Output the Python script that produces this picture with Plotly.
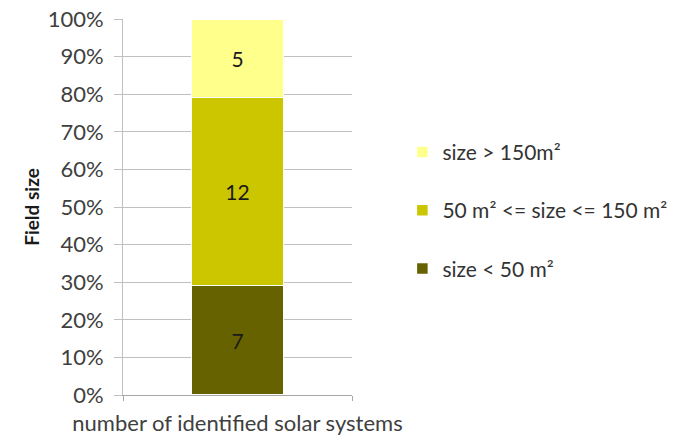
import plotly.graph_objects as go

category = ["number of identified solar systems"]
size_classes = ["size < 50 m²", "50 m² <= size <= 150 m²", "size > 150m²"]
counts = [7, 12, 5]
colors = ["#666200", "#CCC600", "#FFFF8C"]
pct_ticks = list(range(0, 101, 10))
pct_labels = [f"{v}%" for v in pct_ticks]

fig = go.Figure()
for i, (name, n, c) in enumerate(zip(size_classes, counts, colors)):
    fig.add_trace(go.Bar(
        x=category, y=[n], name=name, legendgroup=name,
        legendrank=1000 - i,
        marker=dict(color=c, line=dict(color="white", width=1.5)),
        text=[str(n)], textposition="inside", insidetextanchor="middle",
        textfont=dict(color="#1a1a1a", size=21, family="Lato"),
        hoverinfo="skip",
    ))

fig.update_layout(
    width=691, height=438,
    margin=dict(l=123, r=339, t=19, b=43),
    barmode="stack", barnorm="percent", bargap=0.6,
    plot_bgcolor="white", paper_bgcolor="white",
    font=dict(family="Lato", size=22, color="#404040"),
    showlegend=True,
    legend=dict(
        x=1.22, y=0.70, xanchor="left", yanchor="top",
        traceorder="grouped", tracegroupgap=28,
        font=dict(size=21, color="#333333", family="Lato"),
        itemwidth=30,
    ),
)
fig.update_yaxes(
    range=[0, 100], tickvals=pct_ticks, ticktext=pct_labels,
    showgrid=True, gridcolor="#c0c0c0", gridwidth=1,
    showline=True, linecolor="#c0c0c0", linewidth=1,
    ticks="outside", ticklen=8, tickcolor="#c0c0c0",
    ticklabelstandoff=6,
    zeroline=False, automargin=False,
    title=dict(text="<b>Field size</b>", font=dict(size=19, color="#1a1a1a"), standoff=3),
    tickfont=dict(size=22, color="#404040"),
)
fig.update_xaxes(
    showline=True, linecolor="#a6a6a6", linewidth=1,
    ticks="outside", ticklen=5, tickcolor="#a6a6a6", tickson="boundaries",
    ticklabelstandoff=9,
    showgrid=False, tickangle=0, automargin=False,
    tickfont=dict(size=22, color="#404040"),
)

fig.write_html("out.html")
